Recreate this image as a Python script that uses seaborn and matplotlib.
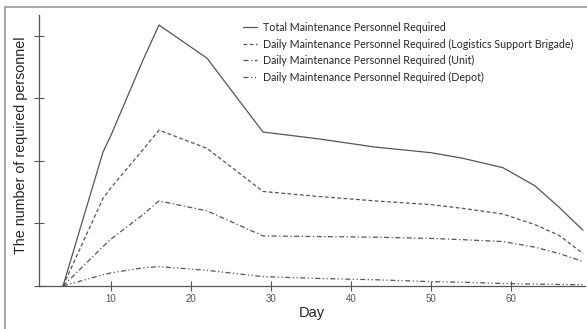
import matplotlib
matplotlib.use('Agg')
import matplotlib.pyplot as plt
import seaborn as sns
import pandas as pd
from matplotlib.lines import Line2D

# values (y has no labels, one tick = 100)
days = [4, 9, 10, 14, 16, 22, 29, 36, 43, 50, 54, 59, 63, 66, 69]
total = [0, 214, 241, 361, 417, 364, 246, 235, 222, 213, 204, 189, 160, 126, 89]
brigade = [0, 140, 157, 218, 249, 220, 151, 143, 136, 130, 124, 115, 98, 81, 52]
unit = [0, 63, 75, 114, 136, 120, 80, 79, 78, 76, 74, 71, 62, 52, 39]
depot = [0, 18, 21, 29, 31, 25, 15, 12, 10, 7, 6, 4, 3, 2.5, 2]

labels = [
    'Total Maintenance Personnel Required',
    'Daily Maintenance Personnel Required (Logistics Support Brigade)',
    'Daily Maintenance Personnel Required (Unit)',
    'Daily Maintenance Personnel Required (Depot)',
]
x_ticks = [10, 20, 30, 40, 50, 60]
y_ticks = [0, 100, 200, 300, 400]

sns.set_style('white')
plt.rcParams['font.family'] = ['Liberation Sans', 'DejaVu Sans']

fig = plt.figure(figsize=(5.87, 3.29), dpi=100)
ax = fig.add_axes([39 / 587, 1 - 286 / 329, 546 / 587, 271 / 329])

line_color = '#555555'
styles = ['-', (0, (3, 2)), (0, (4, 2, 1, 2)), (0, (4, 2, 1, 2, 1, 2))]
for vals, lab, ls in zip([total, brigade, unit, depot], labels, styles):
    df = pd.DataFrame({'Day': days, 'n': vals})
    sns.lineplot(data=df, x='Day', y='n', ax=ax, color=line_color,
                 linestyle=ls, linewidth=0.9, label=lab)

ax.set_xlim(1, 69.25)
ax.set_ylim(0, 433)
ax.set_xticks(x_ticks)
ax.set_yticks(y_ticks)
ax.set_yticklabels([])
ax.tick_params(direction='inout', length=7, width=0.8, color='#555555',
               labelsize=7, labelcolor='#555555', pad=2)
ax.tick_params(axis='x', bottom=True)
ax.tick_params(axis='y', left=True)
for side in ['top', 'right']:
    ax.spines[side].set_visible(False)
for side in ['left', 'bottom']:
    ax.spines[side].set_color('#555555')
    ax.spines[side].set_linewidth(0.9)

ax.set_xlabel('Day', fontsize=10.5)
ax.xaxis.set_label_coords(0.5, -(306 - 286) / 271)
ax.set_ylabel('The number of required personnel', fontsize=10.3)
ax.yaxis.set_label_coords(-(39 - 28) / 546, 0.52)

leg = ax.legend(loc='upper left', bbox_to_anchor=(0.36, 1.002), frameon=False,
                handlelength=1.3, handletextpad=0.6, labelspacing=0.52,
                borderaxespad=0.3, prop={'family': 'Lato', 'size': 7.7})
for h in leg.get_lines():
    h.set_linewidth(0.9)

# grey frame, only its left and top edges are visible
frame_x = 5 / 587
frame_y = 1 - 6.5 / 329
fig.add_artist(Line2D([frame_x, frame_x], [0, frame_y], transform=fig.transFigure,
                      color='#9a9a9a', linewidth=1.2))
fig.add_artist(Line2D([frame_x, 1], [frame_y, frame_y], transform=fig.transFigure,
                      color='#9a9a9a', linewidth=1.2))

fig.savefig('out.png', dpi=100)
